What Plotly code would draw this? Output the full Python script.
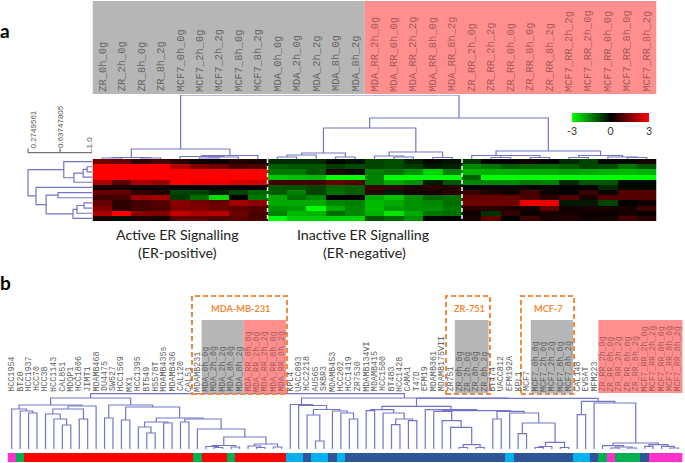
import plotly.graph_objects as go

W, H = 685, 463

# ---------- panel a data ----------
col_labels = ["ZR_0h_0g","ZR_2h_0g","ZR_8h_0g","ZR_8h_2g","MCF7_0h_0g","MCF7_2h_0g","MCF7_2h_2g","MCF7_8h_0g","MCF7_8h_2g",
 "MDA_0h_0g","MDA_2h_0g","MDA_2h_2g","MDA_8h_0g","MDA_8h_2g",
 "MDA_RR_2h_0g","MDA_RR_0h_0g","MDA_RR_2h_2g","MDA_RR_8h_0g","MDA_RR_8h_2g",
 "ZR_RR_2h_0g","ZR_RR_2h_2g","ZR_RR_0h_0g","ZR_RR_8h_0g","ZR_RR_8h_2g",
 "MCF7_RR_2h_2g","MCF7_RR_2h_0g","MCF7_RR_0h_0g","MCF7_RR_8h_0g","MCF7_RR_8h_2g"]
n_parental_a = 14

active = [
 [1.3,1.2,.6,.9,.5,.2,.1,.4,.3],
 [3,3,3,3,2.1,1.5,1.3,.8,.9],
 [3,3,3,3,3,3,3,3,3],
 [3,3,3,3,3,3,3,3,3],
 [2,1.1,2,1.8,3,2.8,2.8,2.6,2.5],
 [.3,.3,.1,.2,-.05,0,0,0,0],
 [1.2,1.2,.6,.4,-.8,-.8,-.4,-.8,-1.2],
 [.7,.8,1.8,1.9,-.7,-1.3,-2.6,0,-1.4],
 [1.2,.5,.8,1.0,1.6,1.4,1.2,1.9,1.7],
 [1.5,.5,.8,.9,1.5,1.5,1.3,1.1,1.0],
 [2,3,1.6,1.5,2.3,2.0,2.2,1.3,.9],
 [.3,-.2,.4,.3,1.1,1.1,1.0,1.1,.9]]
inactive = [
 [-.5,-.5,-.5,-.1,-.2,-.8,-.9,-.4,-.1,-.2],
 [-1.1,-1.0,-1.0,-.7,-.9,-.8,-.9,-.7,-.3,-.4],
 [-1.4,-1.4,-1.0,.4,.1,-1.5,-1.3,-1.7,-2.5,-1.5],
 [-2.4,-2.3,-2.2,-3,-3,-1.5,-3,-3,-3,-3],
 [.8,.8,.8,1.2,1.0,-1.5,-2,-1.7,-.3,-1],
 [-1,-1,-.8,-1.2,-1.1,.7,.6,.3,.5,.4],
 [-1.1,-1.5,-.8,-1.3,-1.1,.5,-.3,.3,.3,.5],
 [-2,-1.3,-1.6,0,0,-2,-2.3,-1.7,-1.2,-1.3],
 [-2,-2,-2,-1.6,-1.5,-2.2,-2.0,-1.7,-1.6,-1.3],
 [-1.7,-1.8,-3,-2,-1.6,-2.2,-1.8,-1.7,-1.7,-1.4],
 [-1.5,-2.2,-2.1,-1.3,-1.6,-2.1,-2.7,-2,-1.4,-1.3],
 [-3,-2.4,-2.4,-2.5,-2.5,-1,-1.2,-1.7,-.1,0]]
mixed = [
 [-.6,0,0,.2,0,-.5,-.8,-.1,-.1,.3],
 [-1.6,-1.4,-1.1,-1.2,-1.2,-1.1,-.8,-.9,-1.4,-1.0],
 [-2.1,-2.1,-2.1,-2,-2,-1.9,-2,-2.1,-2.2,-2.1],
 [-1.1,-3,-3,-3,-3,-3,-3,-3,-3,-3],
 [-1.6,-1.6,-1.6,-1.4,-1.5,-.5,-1,-1,-.1,-.1],
 [0,0,0,0,0,0,0,-.5,-.1,-.1],
 [.7,.4,.2,.8,.2,0,.7,.2,1,1],
 [1.2,1.2,1.2,.9,.5,1,.3,1,1,1],
 [1.3,1.3,1.3,2.8,2.8,-.3,-.3,-.8,0,.2],
 [.5,.5,.4,.3,1.1,.2,.3,.3,.3,.7],
 [.2,-.6,.6,.1,.3,.3,.1,.1,.3,.1],
 [.3,1.1,0,.7,.3,.4,.2,.3,.8,.5]]

# dendrograms: (height, child, child); ints are leaf indices
tree_columns = (64,
 (10, (1.5,(1,0,1),(1,2,3)), (3.5,(2.5,4,(2,(1,5,6),7)),8)),
 (41,
  (31,
   (6,(4,(2,9,10),11),(2,12,13)),
   (7,(3,14,(2,15,16)),(1.5,17,18))),
  (8,
   (3.5,19,(3.5,(1.5,20,21),(1.5,22,23))),
   (3.5,(1.5,24,25),(2,26,(1.5,27,28))))))
tree_rows = (.275,
 (.68,0,(.795,(.90,(.945,1,2),3),4)),
 (.365,5,(.48,(.615,6,7),(.785,(.83,(.91,8,9),10),11))))
scale_ticks = [0.2749561, 0.63747805, 1.0]
scale_text = ["0.2749561", "0.63747805", "1.0"]
scale_xshift = [5, 1, -3]

# ---------- panel b data ----------
line_labels = ["HCC1954","BT20","HCC1937","HCC70","HCC38","HCC1143","CAL851","MDQP1","HCC1806","JIMT1","MDAMB468","DU4475","SW527","HCC1569","MX1","HCC1395","BT549","HS578T","MDAMB435s","MDAMB436","CAL120","CAL51","MDAMB231",
 "MDA_0h_0g","MDA_2h_0g","MDA_2h_2g","MDA_8h_0g","MDA_8h_2g","MDA_RR_0h_0g","MDA_RR_2h_0g","MDA_RR_2h_2g","MDA_RR_8h_0g","MDA_RR_8h_2g",
 "KPL4","UACC893","HCC2218","AU565","SKBR3","MDAMB453","HCC202","HCC1419","ZR7530","MDAMB134VI","MDAMB415","HCC1500","BT483","HCC1428","CAMA1","T47D","EFM19","MDAMB361","MDAMB175VII","ZR751",
 "ZR_0h_0g","ZR_2h_0g","ZR_8h_0g","ZR_8h_2g","BT474","UACC812","EFM192A","KPL1","MCF7",
 "MCF7_0h_0g","MCF7_2h_0g","MCF7_2h_2g","MCF7_8h_0g","MCF7_8h_2g","CAL148","EVSAT","MFM223",
 "ZR_RR_2h_0g","ZR_RR_0h_0g","ZR_RR_2h_2g","ZR_RR_8h_0g","ZR_RR_8h_2g",
 "MCF7_RR_2h_0g","MCF7_RR_2h_2g","MCF7_RR_0h_0g","MCF7_RR_8h_0g","MCF7_RR_8h_2g"]
strip_runs = [(3,1),(2,1),(0,20),(2,1),(0,3),(2,1),(0,6),(4,2),(1,1),(4,2),(1,1),(4,1),(1,19),(4,1),(1,7),(4,2),(1,1),(2,1),(3,1),(2,3),(1,1),(3,4)]
strip_colors = ["#ff0000","#2f5597","#00b050","#ff33cc","#00b0f0"]

tree_lines = (55.3,
 (51,
  (44,
   (40,0,(38,1,(36,2,3))),
   (43,(40,(35,4,(30,5,(24,6,7))),(30,8,9)),10)),
  (44,
   (31,11,12),
   (42,
    (29,13,14),
    (31,
     (27,(22,15,(16,16,17)),(26,18,19)),
     (30,
      (27,20,21),
      (20,22,
       (12,
        (3.5,(2.5,23,(1.5,24,25)),(2,26,27)),
        (5,(3,28,(1.5,29,30)),(2,31,32))))))))),
 (51,
  (44.5,33,(43.5,34,(39.5,(34,35,(8,36,37)),(38,38,(36,39,(30,40,41)))))),
  (50.7,
   (42.7,
    (39.3,(38.3,42,43),(36,44,(30,(24.3,45,46),(28.3,47,48)))),
    (39.3,49,
     (38.3,
      (37.7,50,(28.3,51,(21.7,52,(4.3,(1.5,53,54),(1.5,55,56))))),
      (37.7,(30,57,58),(36,59,(26,(15.3,60,61),(6.7,(2.5,(1.5,62,63),64),(1.5,65,66)))))))),
   (47.7,
    (34.3,67,68),
    (46,69,
     (6,
      (3.3,70,(2,(1,71,72),(1,73,74))),
      (4.3,(2.7,75,76),(2.7,77,(1,78,79)))))))))


def walk(node, leaf_h, xs, hs):
    """Return (centre, height) of a node and append its bracket as polyline."""
    if isinstance(node, int):
        return node, leaf_h
    h, a, b = node
    ca, ha = walk(a, leaf_h, xs, hs)
    cb, hb = walk(b, leaf_h, xs, hs)
    xs += [ca, ca, cb, cb, None]
    hs += [ha, h, h, hb, None]
    return (ca + cb) / 2, h


def expand(runs):
    out = []
    for code, n in runs:
        out += [code] * n
    return out


def px_x(v):
    return v / W


def px_y(v):
    return 1 - v / H


LINE = "#7276c4"
LW = 1.2
fig = go.Figure()

matrix = [a + b + c for a, b, c in zip(active, inactive, mixed)]
fig.add_trace(go.Heatmap(z=matrix, zmin=-3, zmax=3, xaxis="x", yaxis="y", hoverinfo="skip",
    colorscale=[[0, "#00ff00"], [.5, "#000000"], [1, "#ff0000"]],
    colorbar=dict(orientation="h", x=px_x(610.5), xanchor="center", y=px_y(113), yanchor="top",
                  len=77, lenmode="pixels", thickness=9, thicknessmode="pixels",
                  outlinewidth=0, tickvals=[-3, 0, 3], ticktext=["-3", "0", "3"], ticks="",
                  ypad=0, xpad=0, tickfont=dict(family="Lato", size=10.5, color="#333"))))

xs, hs = [], []
walk(tree_columns, 0, xs, hs)
fig.add_trace(go.Scatter(x=xs, y=hs, mode="lines", line=dict(color=LINE, width=LW), xaxis="x", yaxis="y2", hoverinfo="skip"))
rx, ry = [], []
walk(tree_rows, 1.0, ry, rx)
fig.add_trace(go.Scatter(x=rx, y=ry, mode="lines", line=dict(color=LINE, width=LW), xaxis="x2", yaxis="y", hoverinfo="skip"))

xs, hs = [], []
centre, top = walk(tree_lines, 0, xs, hs)
fig.add_trace(go.Scatter(x=xs, y=hs, mode="lines", line=dict(color=LINE, width=LW), xaxis="x3", yaxis="y3", hoverinfo="skip"))

strip = expand(strip_runs)
n_c = len(strip_colors) - 1
cs = []
for i, c in enumerate(strip_colors):
    cs += [[i / (n_c + 1), c], [(i + 1) / (n_c + 1), c]]
fig.add_trace(go.Heatmap(z=[strip], zmin=-.5, zmax=n_c + .5, colorscale=cs, showscale=False,
                         xaxis="x3", yaxis="y4", hoverinfo="skip"))

hidden = dict(visible=False, fixedrange=True)
fig.update_layout(
    width=W, height=H, margin=dict(l=0, r=0, t=0, b=0), showlegend=False,
    paper_bgcolor="white", plot_bgcolor="rgba(0,0,0,0)",
    xaxis=dict(domain=[px_x(92.5), px_x(656.5)], range=[-.5, 28.5], anchor="y", **hidden),
    yaxis=dict(domain=[px_y(221), px_y(159)], range=[11.5, -.5], anchor="x", **hidden),
    yaxis2=dict(domain=[px_y(159), px_y(95)], range=[0, 64], anchor="x", **hidden),
    xaxis2=dict(domain=[0, px_x(92)], range=[1 - 92 * .01133, 1.0], anchor="y", **hidden),
    xaxis3=dict(domain=[px_x(7.5), px_x(682.7)], range=[-.5, 79.5], anchor="y3", **hidden),
    yaxis3=dict(domain=[px_y(449), px_y(393)], range=[0, 56], anchor="x3", **hidden),
    yaxis4=dict(domain=[px_y(462), px_y(453)], range=[-.5, .5], anchor="x3", **hidden),
)

GRAY, PINK = "#b6b6b6", "#ff8f8f"
ORANGE = "#f28a3a"
shapes = []
ann = []


def band(x0, x1, y0, y1, color, xref):
    shapes.append(dict(type="rect", xref=xref, yref="paper", x0=x0, x1=x1, y0=px_y(y0), y1=px_y(y1),
                       fillcolor=color, line_width=0, layer="below"))


def lab(text, x, y, size, color, family="Lato", xref="paper", angle=0, xa="center", ya="middle", xshift=0, bold=False):
    if bold:
        text = "<b>%s</b>" % text
    ann.append(dict(text=text, x=x, y=y, xref=xref, yref="paper", showarrow=False, textangle=angle,
                    xanchor=xa, yanchor=ya, xshift=xshift, borderpad=0, borderwidth=0,
                    font=dict(family=family, size=size, color=color)))


# panel a: label band
band(-.5, n_parental_a - .5, 1, 94, GRAY, "x")
band(n_parental_a - .5, 28.5, 1, 94, PINK, "x")
for i, t in enumerate(col_labels):
    lab(t, i, px_y(91.5), 10.4, "#666666" if i < n_parental_a else "#a85a5a",
        family="Liberation Mono", xref="x", angle=-90, ya="bottom")

# cluster separators
for b in (8.5, 18.5):
    shapes.append(dict(type="line", xref="x", yref="y", x0=b, x1=b, y0=-.5, y1=11.5,
                       line=dict(color="white", width=1.5, dash="4px,3px")))

# similarity scale
shapes.append(dict(type="line", xref="x2", yref="paper", x0=scale_ticks[0], x1=scale_ticks[-1],
                   y0=px_y(152.7), y1=px_y(152.7), line=dict(color="#555", width=1)))
for v, t, dx in zip(scale_ticks, scale_text, scale_xshift):
    shapes.append(dict(type="line", xref="x2", yref="paper", x0=v, x1=v, y0=px_y(152.7), y1=px_y(148.5),
                       line=dict(color="#555", width=1)))
    lab(t, v, px_y(148.5), 8, "#555", family="Liberation Sans", xref="x2", angle=-90, ya="bottom", xshift=dx)

TEXT_SIZE = 14.2
lab("Active ER Signalling", px_x(177), px_y(234), TEXT_SIZE, "#222")
lab("(ER-positive)", px_x(177), px_y(252), TEXT_SIZE, "#222")
lab("Inactive ER Signalling", px_x(363), px_y(234), TEXT_SIZE, "#222")
lab("(ER-negative)", px_x(364), px_y(252), TEXT_SIZE, "#222")
lab("a", px_x(5), px_y(30), 19, "#000", bold=True)
lab("b", px_x(5), px_y(282), 19, "#000", bold=True)

# panel b: bands and line labels
band(22.5, 27.5, 320, 393, GRAY, "x3")
band(27.5, 32.5, 320, 393, PINK, "x3")
band(52.5, 56.5, 320, 393, GRAY, "x3")
band(61.5, 66.5, 320, 393, GRAY, "x3")
band(69.5, 79.5, 320, 393, PINK, "x3")
for i, t in enumerate(line_labels):
    color = "#a85a5a" if "_RR_" in t else "#5f5f5f"
    lab(t, i, px_y(391.5), 8.4, color, family="Liberation Mono", xref="x3", angle=-90, ya="bottom")

for x0, x1, t in [(192, 287, "MDA-MB-231"), (446, 490, "ZR-751"), (521, 574, "MCF-7")]:
    shapes.append(dict(type="rect", xref="paper", yref="paper", x0=px_x(x0), x1=px_x(x1),
                       y0=px_y(394), y1=px_y(296), fillcolor="rgba(0,0,0,0)",
                       line=dict(color=ORANGE, width=2, dash="5px,3px"), layer="above"))
    lab(t, px_x((x0 + x1) / 2 + 1), px_y(308), 9.2, ORANGE, bold=True)

fig.update_layout(shapes=shapes, annotations=ann)
fig.write_html("out.html", config={"displayModeBar": False},
               post_script="document.documentElement.style.margin='0';document.documentElement.style.overflow='hidden';document.body.style.margin='0';document.body.style.padding='0';")
